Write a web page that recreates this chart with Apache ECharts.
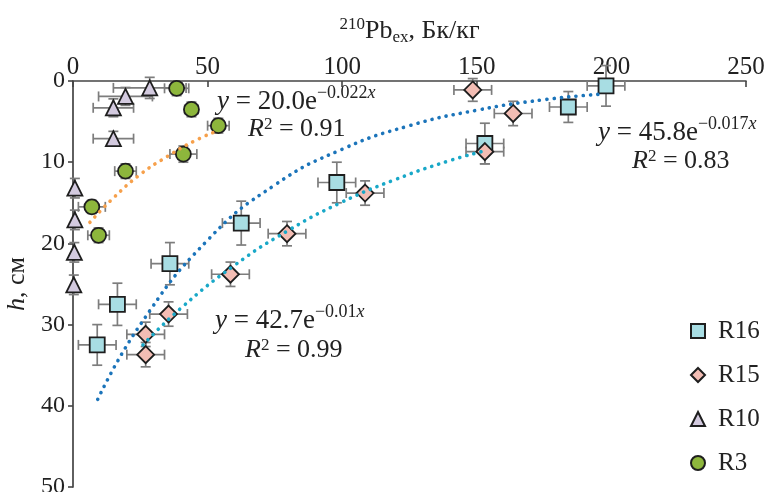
<!DOCTYPE html>
<html><head><meta charset="utf-8">
<script src="https://cdn.jsdelivr.net/npm/echarts@6/dist/echarts.min.js"></script>
<style>html,body{margin:0;padding:0;background:#fff}#c{width:766px;height:492px}</style>
</head><body><div id="c"></div>
<script>
// ---- data ----
const r16X = [198, 184, 153, 98, 62.5, 36, 16.5, 9];
const r16Y = [0.6, 3.2, 7.7, 12.5, 17.5, 22.5, 27.5, 32.5];
const r16XErr = [7, 7, 7, 7, 7, 7, 7, 7];
const r16YErr = [2.5, 1.9, 2.5, 2.5, 2.7, 2.6, 2.6, 2.5];

const r15X = [148.5, 163.5, 153, 108.5, 79.5, 58.5, 35.5, 27, 27];
const r15Y = [1.1, 4.0, 8.7, 13.8, 18.8, 23.8, 28.7, 31.2, 33.7];
const r15XErr = [7, 7, 7, 7, 7, 7, 7, 7, 7];
const r15YErr = [1.4, 1.5, 1.5, 1.5, 1.5, 1.5, 1.5, 1.5, 1.5];

const r10X = [28.5, 19.5, 15, 15, 0.7, 0.7, 0.5, 0.3];
const r10Y = [0.85, 1.9, 3.3, 7.1, 13.2, 17.1, 21.1, 25.1];
const r10XErr = [13.5, 10, 7.5, 7.5, 0, 0, 0, 0];
const r10YErr = [1.3, 1.1, 1.1, 0.9, 1.2, 1.2, 1.2, 1.2];

const r3X = [38.5, 44, 54, 41, 19.5, 7, 9.5];
const r3Y = [0.9, 3.5, 5.5, 9.0, 11.1, 15.5, 19.0];
const r3XErr = [4.5, 2.5, 4, 5, 4, 5, 4];
const r3YErr = [0.9, 0.9, 0.9, 1.0, 0.9, 0.8, 0.9];

// trend lines
const fitR3X = [6.3, 15, 25, 35, 45, 54];
const fitR3Y = [17.4, 14.4, 11.5, 9.3, 7.4, 6.1];
const fitR16X = [9.2, 25, 50, 75, 100, 125, 150, 175, 197];
const fitR16Y = [39.2, 30.0, 19.6, 12.8, 8.4, 5.5, 3.6, 2.3, 1.6];
const fitR15X = [26, 40, 60, 80, 100, 120, 140, 153];
const fitR15Y = [32.5, 28.0, 22.7, 18.4, 14.9, 12.1, 9.8, 8.6];

const xTicks = [0, 50, 100, 150, 200, 250];
const yTicks = [0, 10, 20, 30, 40, 50];

const FONT = 'Liberation Serif';
const INK = '#222';

function zip(a, b, c, d) { return a.map((v, i) => c ? [v, b[i], c[i], d[i]] : [v, b[i]]); }

function errRender(params, api) {
  const x = api.value(0), y = api.value(1), ex = api.value(2), ey = api.value(3);
  const cap = 5;
  const st = { stroke: '#7d7d7d', lineWidth: 1.7 };
  const ch = [];
  if (ex > 0) {
    const l = api.coord([x - ex, y]), r = api.coord([x + ex, y]);
    ch.push({ type: 'line', shape: { x1: l[0], y1: l[1], x2: r[0], y2: r[1] }, style: st });
    ch.push({ type: 'line', shape: { x1: l[0], y1: l[1] - cap, x2: l[0], y2: l[1] + cap }, style: st });
    ch.push({ type: 'line', shape: { x1: r[0], y1: r[1] - cap, x2: r[0], y2: r[1] + cap }, style: st });
  }
  if (ey > 0) {
    const t = api.coord([x, y - ey]), b = api.coord([x, y + ey]);
    ch.push({ type: 'line', shape: { x1: t[0], y1: t[1], x2: b[0], y2: b[1] }, style: st });
    ch.push({ type: 'line', shape: { x1: t[0] - cap, y1: t[1], x2: t[0] + cap, y2: t[1] }, style: st });
    ch.push({ type: 'line', shape: { x1: b[0] - cap, y1: b[1], x2: b[0] + cap, y2: b[1] }, style: st });
  }
  return { type: 'group', children: ch };
}

function errSeries(x, y, ex, ey) {
  return { type: 'custom', renderItem: errRender, data: zip(x, y, ex, ey), z: 2, silent: true,
    encode: { x: 0, y: 1 } };
}
function scat(name, x, y, symbol, size, color) {
  return { name, type: 'scatter', data: zip(x, y), symbol, symbolSize: size, z: 3,
    itemStyle: { color, borderColor: '#1e1e1e', borderWidth: 1.8, opacity: 1 } };
}
function fit(x, y, color) {
  return { type: 'line', data: zip(x, y), smooth: true, showSymbol: false, z: 4, silent: true,
    lineStyle: { color, width: 3.6, type: [0.1, 7.2], cap: 'round' } };
}

const chart = echarts.init(document.getElementById('c'), null, { renderer: 'canvas' });

const axisLine = { show: true, lineStyle: { color: '#444', width: 1.7 } };
// equation rich styles
const eqRich = {
  b: { fontFamily: FONT, fontSize: 27, color: INK, lineHeight: 36 },
  i: { fontFamily: FONT, fontSize: 27, fontStyle: 'italic', color: INK, lineHeight: 36 },
  sup: { fontFamily: FONT, fontSize: 18, color: INK, verticalAlign: 'top', lineHeight: 10 },
  isup: { fontFamily: FONT, fontSize: 18, fontStyle: 'italic', color: INK, verticalAlign: 'top', lineHeight: 10 }
};
const r2Rich = {
  b: { fontFamily: FONT, fontSize: 26, color: INK, lineHeight: 26 },
  i: { fontFamily: FONT, fontSize: 26, fontStyle: 'italic', color: INK, lineHeight: 26 },
  sq: { fontFamily: FONT, fontSize: 17, color: INK, verticalAlign: 'top', lineHeight: 14 }
};
const titleRich = {
  t: { fontFamily: FONT, fontSize: 26, color: INK, lineHeight: 30 },
  ti: { fontFamily: FONT, fontSize: 26, fontStyle: 'italic', color: INK, lineHeight: 30 },
  tsup: { fontFamily: FONT, fontSize: 17, color: INK, verticalAlign: 'top', lineHeight: 14 },
  tsub: { fontFamily: FONT, fontSize: 17, color: INK, verticalAlign: 'bottom', lineHeight: 14 }
};

function txt(x, y, text, rich) {
  return { type: 'text', x, y, z: 10, style: { text, rich, align: 'left', verticalAlign: 'middle',
    fontFamily: FONT, fontSize: 26, fill: INK } };
}

chart.setOption({
  animation: false,
  backgroundColor: '#fff',
  textStyle: { fontFamily: FONT },
  grid: { left: 73, right: 20, top: 81, bottom: 5, outerBoundsMode: 'none', containLabel: false },
  xAxis: {
    type: 'value', position: 'top', min: 0, max: 250, interval: 50,
    axisLine, splitLine: { show: false },
    axisTick: { show: true, inside: true, length: 6, lineStyle: { color: '#444', width: 1.6 } },
    axisLabel: { fontFamily: FONT, fontSize: 25, color: INK, margin: 1,
      formatter: v => xTicks.includes(v) ? String(v) : '' },
    name: '{tsup|210}{t|Pb}{tsub|ex}{t|, Бк/кг}', nameLocation: 'middle', nameGap: 35,
    nameTextStyle: { rich: titleRich, fontFamily: FONT }
  },
  yAxis: {
    type: 'value', inverse: true, min: 0, max: 50, interval: 10,
    axisLine, splitLine: { show: false },
    axisTick: { show: true, inside: false, length: 5, lineStyle: { color: '#444', width: 1.6 } },
    axisLabel: { fontFamily: FONT, fontSize: 24, color: INK, margin: 8,
      formatter: v => yTicks.includes(v) ? String(v) : '' },
    name: '{ti|h}{t|, см}', nameLocation: 'middle', nameGap: 40,
    nameTextStyle: { rich: titleRich, fontFamily: FONT }
  },
  legend: {
    orient: 'vertical', left: 690, top: 318, padding: 0, itemGap: 18, itemWidth: 14, itemHeight: 14,
    textStyle: { fontFamily: FONT, fontSize: 25, color: INK, lineHeight: 26, padding: [0, 0, 0, 8] },
    data: ['R16', 'R15', 'R10', 'R3']
  },
  graphic: [
    txt(217, 102, '{i|y}{b| = 20.0e}{sup|−0.022}{isup|x}', eqRich),
    txt(248, 129, '{i|R}{sq|2}{b| = 0.91}', r2Rich),
    txt(598, 133, '{i|y}{b| = 45.8e}{sup|−0.017}{isup|x}', eqRich),
    txt(632, 161, '{i|R}{sq|2}{b| = 0.83}', r2Rich),
    txt(215, 321, '{i|y}{b| = 42.7e}{sup|−0.01}{isup|x}', eqRich),
    txt(245, 350, '{i|R}{sq|2}{b| = 0.99}', r2Rich)
  ],
  series: [
    errSeries(r16X, r16Y, r16XErr, r16YErr),
    errSeries(r15X, r15Y, r15XErr, r15YErr),
    errSeries(r10X, r10Y, r10XErr, r10YErr),
    errSeries(r3X, r3Y, r3XErr, r3YErr),
    scat('R16', r16X, r16Y, 'rect', 15, '#a8dde3'),
    scat('R15', r15X, r15Y, 'diamond', 17, '#f3bdb4'),
    scat('R10', r10X, r10Y, 'triangle', 15, '#d3cadf'),
    scat('R3', r3X, r3Y, 'circle', 15, '#8db63c'),
    fit(fitR3X, fitR3Y, '#f6a04b'),
    fit(fitR16X, fitR16Y, '#1b74ba'),
    fit(fitR15X, fitR15Y, '#19a8c8')
  ]
});
</script>
</body></html>
